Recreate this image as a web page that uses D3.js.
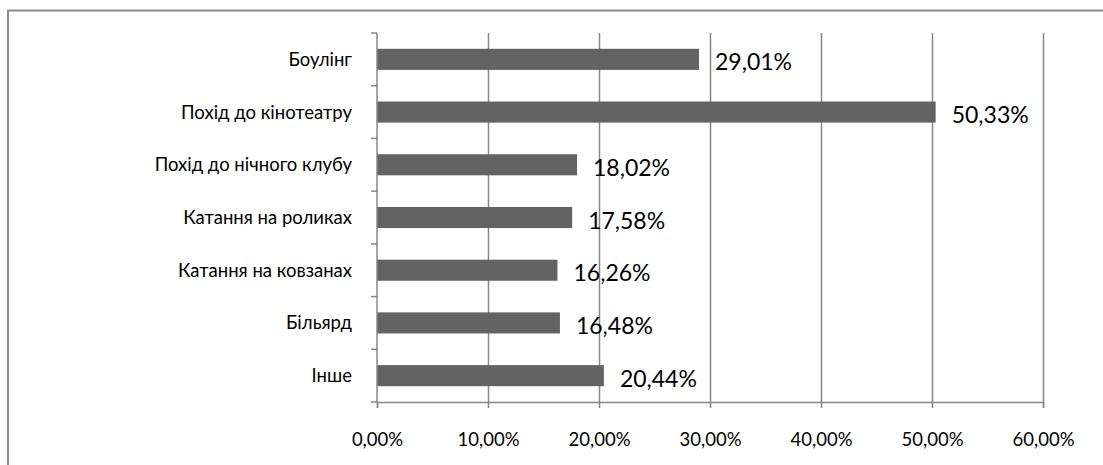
<!DOCTYPE html>
<html>
<head>
<meta charset="utf-8">
<script src="https://cdn.jsdelivr.net/npm/d3@7"></script>
<style>
  body { margin: 0; background: #fff; }
  svg { display: block; font-family: Lato, "Open Sans", sans-serif; }
</style>
</head>
<body>
<script>
// chart data
const categories = ["Боулінг", "Похід до кінотеатру", "Похід до нічного клубу", "Катання на роликах", "Катання на ковзанах", "Більярд", "Інше"];
const values = [29.01, 50.33, 18.02, 17.58, 16.26, 16.48, 20.44];
const xTicks = [0, 10, 20, 30, 40, 50, 60];

const width = 1103, height = 465;
const margin = { top: 33, left: 377, right: 60, bottom: 63 };

const svg = d3.select("body").append("svg")
    .attr("width", width)
    .attr("height", height);

// outer frame (only top and left visible in the original)
svg.append("rect")
    .attr("x", 8).attr("y", 10.5)
    .attr("width", width + 20).attr("height", height + 20)
    .attr("fill", "none")
    .attr("stroke", "#8c8c8c")
    .attr("stroke-width", 2);

const x = d3.scaleLinear().domain([0, 60]).range([margin.left, 1043]);
const y = d3.scaleBand().domain(categories).range([margin.top, 402]).paddingInner(0.6).paddingOuter(0.3);

const fmt = v => d3.format(".2f")(v).replace(".", ",") + "%";

// vertical gridlines
svg.append("g")
    .selectAll("line")
    .data(xTicks.slice(1))
    .enter().append("line")
    .attr("x1", d => Math.round(x(d)) + 0.5)
    .attr("x2", d => Math.round(x(d)) + 0.5)
    .attr("y1", margin.top)
    .attr("y2", 402)
    .attr("stroke", "#878787")
    .attr("stroke-width", 1.5);

// bars
svg.append("g")
    .selectAll("rect")
    .data(values)
    .enter().append("rect")
    .attr("x", x(0))
    .attr("y", (d, i) => y(categories[i]))
    .attr("width", d => x(d) - x(0))
    .attr("height", y.bandwidth())
    .attr("fill", "#636363");

// x axis
const xAxis = svg.append("g")
    .attr("transform", "translate(0,402)")
    .call(d3.axisBottom(x).tickValues(xTicks).tickSize(6).tickPadding(25).tickFormat(d => fmt(d)));
xAxis.select(".domain").attr("stroke", "#878787").attr("stroke-width", 1.5);
xAxis.selectAll(".tick line").attr("stroke", "#878787").attr("stroke-width", 1.5);
xAxis.selectAll("text").attr("font-size", 18.5).attr("fill", "#000").attr("font-family", "Lato, sans-serif");

// y axis with boundary ticks
const yAxis = svg.append("g")
    .attr("transform", `translate(${x(0)},0)`);
yAxis.append("line")
    .attr("x1", 0).attr("x2", 0)
    .attr("y1", margin.top).attr("y2", 402)
    .attr("stroke", "#878787").attr("stroke-width", 1.5);
const step = y.step();
yAxis.selectAll("line.tick")
    .data(d3.range(categories.length + 1))
    .enter().append("line")
    .attr("class", "tick")
    .attr("x1", -6).attr("x2", 0)
    .attr("y1", i => margin.top + i * step)
    .attr("y2", i => margin.top + i * step)
    .attr("stroke", "#878787").attr("stroke-width", 1.5);
yAxis.selectAll("text")
    .data(categories)
    .enter().append("text")
    .attr("x", -25)
    .attr("y", d => y(d) + y.bandwidth() / 2)
    .attr("dy", "0.35em")
    .attr("text-anchor", "end")
    .attr("font-size", 18.5)
    .text(d => d);

// value labels
svg.append("g")
    .selectAll("text")
    .data(values)
    .enter().append("text")
    .attr("x", d => x(d) + 16)
    .attr("y", (d, i) => y(categories[i]) + y.bandwidth() / 2 + 3)
    .attr("dy", "0.35em")
    .attr("font-size", 23)
    .text(d => fmt(d));
</script>
</body>
</html>
